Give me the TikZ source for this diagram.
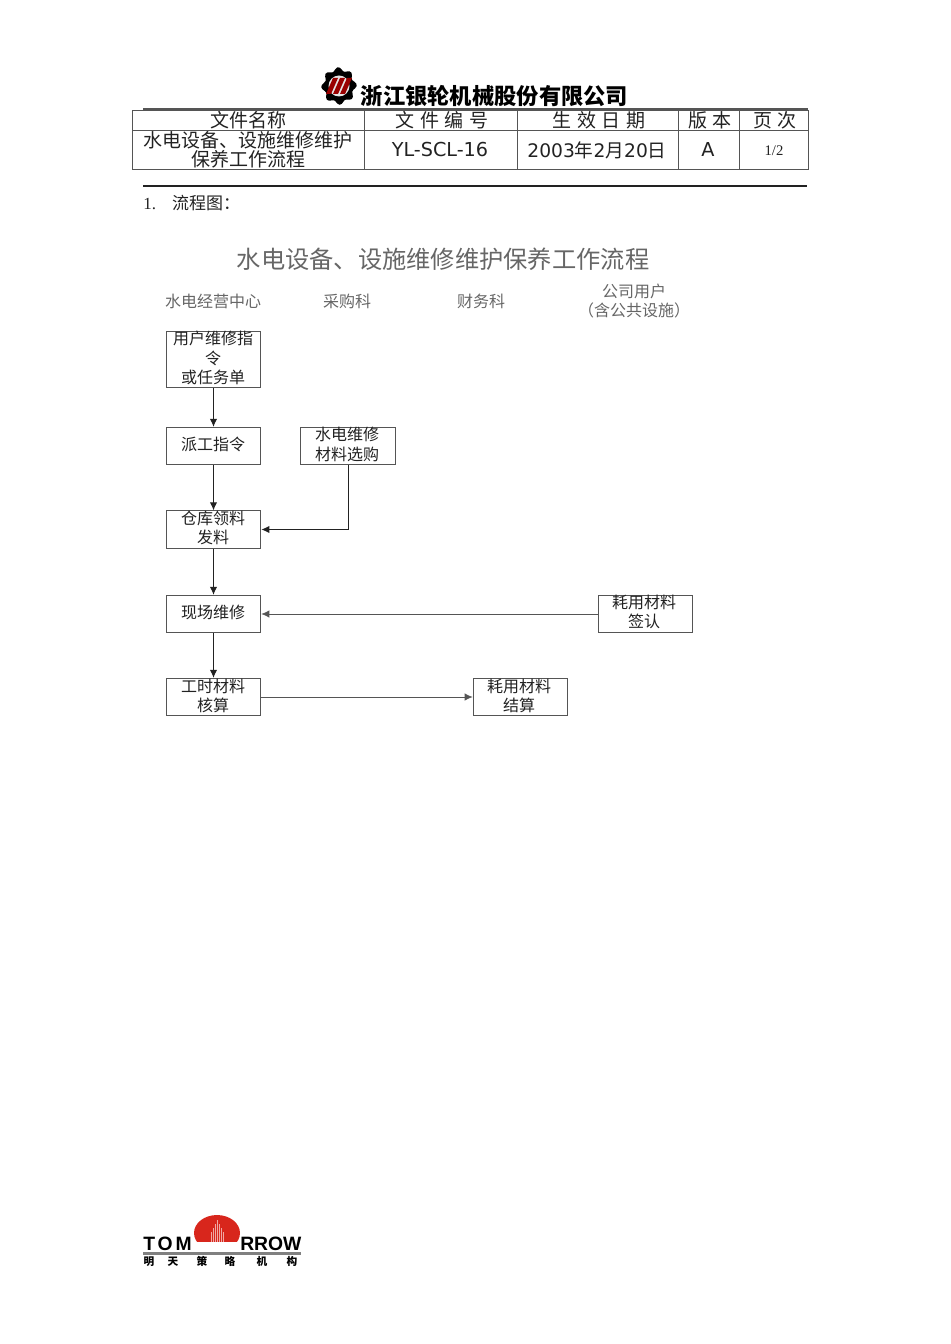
\documentclass[tikz,border=0pt]{standalone}
\usepackage{fontspec}
\usetikzlibrary{arrows.meta,calc}
\setmainfont{Noto Sans CJK SC}
\newfontfamily\cjkwide{Noto Sans CJK SC}[LetterSpace=30]
\newfontfamily\latinsans{DejaVu Sans}
\newfontfamily\latinserif{Liberation Serif}
\newfontfamily\logosans{Liberation Sans}[LetterSpace=0]
\newfontfamily\logosanswide{Liberation Sans}[LetterSpace=15]
\definecolor{ink}{HTML}{222222}
\definecolor{rulegray}{HTML}{555555}
\definecolor{titlegray}{HTML}{666666}
\definecolor{logored}{HTML}{D8261C}
\tikzset{
  flowbox/.style={draw=rulegray,line width=0.7pt,minimum width=71pt,minimum height=28pt,inner sep=0pt,fill=white},
  flowtext/.style={font=\fontsize{12}{14.6}\selectfont,align=center,inner sep=0pt,text=ink},
  headtext/.style={font=\fontsize{12}{14.6}\selectfont,align=center,inner sep=0pt,text=titlegray},
  celltext/.style={font=\fontsize{14.25}{14.5}\selectfont,align=center,inner sep=0pt,text=ink},
  flowarrow/.style={draw=ink,line width=0.75pt,-{Latex[length=6pt,width=5.5pt]}},
  sidearrow/.style={draw=rulegray,line width=0.6pt,-{Latex[length=6pt,width=5.5pt]}},
  tablerule/.style={draw=rulegray,line width=0.55pt},
}
\begin{document}
\begin{tikzpicture}[x=0.75pt,y=-0.75pt]
\useasboundingbox (0,0) rectangle (950,1344);

% company logo
\fill[black] plot[smooth cycle,samples=49,domain=0:352.5] ({339+(16+1.8*cos(8*\x+22))*cos(\x)},{86+(17+1.8*cos(8*\x+22))*sin(\x)});
\fill[white!80!gray] (339,86) circle (10.5);
\foreach \dx in {-7,0,7}
  \fill[red!60!black] ({339+\dx-6},94) -- ({339+\dx-1},94) -- ({339+\dx+6},78) -- ({339+\dx+1},78) -- cycle;
\node[font=\fontsize{16.7}{17}\selectfont\bfseries,inner sep=0pt,text=black] (company) at (494.5,96) {浙江银轮机械股份有限公司};

% header table
\draw[draw=rulegray,line width=1.3pt] (143,109) -- (808,109);
\draw[tablerule] (132,110) rectangle (808,169);
\draw[tablerule] (132,130) -- (808,130);
\foreach \cx in {364,517,678,739} \draw[tablerule] (\cx,110) -- (\cx,169);
\node[celltext] (h1) at (248,120) {文件名称};
\node[celltext,font=\fontsize{14.25}{14.5}\selectfont\cjkwide] (h2) at (442,120) {文件编号};
\node[celltext,font=\fontsize{14.25}{14.5}\selectfont\cjkwide] (h3) at (599,120) {生效日期};
\node[celltext,font=\fontsize{14.25}{14.5}\selectfont\cjkwide] (h4) at (710,120) {版本};
\node[celltext,font=\fontsize{14.25}{14.5}\selectfont\cjkwide] (h5) at (775,120) {页次};
\node[celltext,font=\fontsize{14.25}{14.6}\selectfont] (c1) at (248,150) {水电设备、设施维修维护\\保养工作流程};
\node[celltext,font=\fontsize{14.4}{16}\selectfont\latinsans] (c2) at (440,150) {YL-SCL-16};
\node[celltext,font=\fontsize{14}{16}\selectfont\latinsans] (c3) at (597,150) {2003{\fontspec{Noto Sans CJK SC}年}2{\fontspec{Noto Sans CJK SC}月}20{\fontspec{Noto Sans CJK SC}日}};
\node[celltext,font=\fontsize{14.4}{16}\selectfont\latinsans] (c4) at (708,150) {A};
\node[celltext,font=\fontsize{11}{12}\selectfont\latinserif] (c5) at (774,151) {1/2};
\draw[draw=ink,line width=0.9pt] (143,186) -- (807,186);
\node[anchor=west,inner sep=0pt,text=ink,font=\fontsize{12.75}{14}\selectfont] (sec) at (143,203) {{\latinserif 1.}\hspace{12pt}流程图：};

% title and column heads
\node[inner sep=0pt,text=titlegray,font=\fontsize{18.2}{20}\selectfont] (title) at (443,259) {水电设备、设施维修维护保养工作流程};
\node[headtext] (col1) at (213,301) {水电经营中心};
\node[headtext] (col2) at (347,301) {采购科};
\node[headtext] (col3) at (481,301) {财务科};
\node[headtext] (col4) at (634,301) {公司用户\\（含公共设施）};

% flow boxes
\node[flowbox,minimum height=42.5pt] (order) at (213.5,359.5) {};
\node[flowbox] (dispatch) at (213.5,446) {};
\node[flowbox] (purchase) at (348,446) {};
\node[flowbox] (issue) at (213.5,529.5) {};
\node[flowbox] (repair) at (213.5,614) {};
\node[flowbox] (sign) at (645.5,614) {};
\node[flowbox] (account) at (213.5,697) {};
\node[flowbox] (settle) at (520.5,697) {};

\node[flowtext] (order text) at (213,358) {用户维修指\\令\\或任务单};
\node[flowtext] (dispatch text) at (213,444) {派工指令};
\node[flowtext] (purchase text) at (347,444.5) {水电维修\\材料选购};
\node[flowtext] (issue text) at (213,528) {仓库领料\\发料};
\node[flowtext] (repair text) at (213,612.5) {现场维修};
\node[flowtext] (sign text) at (644,612) {耗用材料\\签认};
\node[flowtext] (account text) at (213,696) {工时材料\\核算};
\node[flowtext] (settle text) at (519,696) {耗用材料\\结算};

% connectors
\draw[flowarrow] (order) -- (dispatch);
\draw[flowarrow] (dispatch) -- (issue);
\draw[flowarrow] (issue) -- (repair);
\draw[flowarrow] (repair) -- (account);
\draw[flowarrow] (purchase.south) |- (issue.east);
\draw[sidearrow] (sign.west) -- (repair.east);
\draw[sidearrow] (account.east) -- (settle.west);

% tomorrow logo
\begin{scope}
\clip (190,1210) rectangle (245,1241.5);
\fill[logored] (217,1233) ellipse (23 and 18);
\end{scope}
\foreach \dx/\top in {-6/1232,-4/1228,-2/1224,0/1220,2/1224,4/1228,6/1232}
  \fill[white!60!logored] ({217+\dx-0.5},\top) rectangle ({217+\dx+0.5},1241.5);
\node[inner sep=0pt,anchor=west,text=black] (tom) at (143,1243.5) {\logosanswide\bfseries\fontsize{14.5}{15}\selectfont TOM};
\node[inner sep=0pt,anchor=west,text=black] (rrow) at (240,1243.5) {\logosans\bfseries\fontsize{14.5}{15}\selectfont RROW};
\draw[draw=gray,line width=1.6pt] (143,1253.5) -- (301,1253.5);
\foreach \ch/\cx in {明/149,天/173,策/202,略/230,机/262,构/292}
  \node[inner sep=0pt,text=black,font=\fontsize{8}{8.5}\selectfont\bfseries] at (\cx,1261.5) {\ch};
\end{tikzpicture}
\end{document}
